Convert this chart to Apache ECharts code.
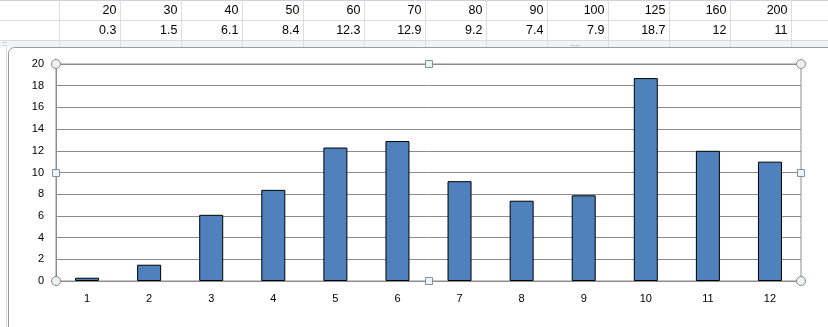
<!DOCTYPE html>
<html>
<head>
<meta charset="utf-8">
<script src="https://cdn.jsdelivr.net/npm/echarts@6/dist/echarts.min.js"></script>
<style>
html,body{margin:0;padding:0;background:#fff;}
#c{width:828px;height:327px;}
</style>
</head>
<body>
<div id="c"></div>
<script>
// Data
var categories = ['1','2','3','4','5','6','7','8','9','10','11','12'];
var headerRow = ['20','30','40','50','60','70','80','90','100','125','160','200'];
var valueRow = ['0.3','1.5','6.1','8.4','12.3','12.9','9.2','7.4','7.9','18.7','12','11'];
var values = [0.3, 1.5, 6.1, 8.4, 12.3, 12.9, 9.2, 7.4, 7.9, 18.7, 12, 11];

var chart = echarts.init(document.getElementById('c'), null, {renderer:'canvas'});

var colLeft = 58.5, colW = 61;
var g = [];
// sheet grid lines
g.push({type:'rect', shape:{x:0,y:40.5,width:828,height:7}, style:{fill:'#f1f3f6'}, silent:true, z:0});
g.push({type:'line', shape:{x1:0,y1:0.5,x2:828,y2:0.5}, style:{stroke:'#c9d3e0',lineWidth:1}, z:1});
g.push({type:'line', shape:{x1:0,y1:20.5,x2:828,y2:20.5}, style:{stroke:'#dadfe6',lineWidth:1}, z:1});
g.push({type:'line', shape:{x1:0,y1:40.5,x2:828,y2:40.5}, style:{stroke:'#d6dbe2',lineWidth:1}, z:1});
for (var k = 0; k <= 13; k++) {
  var xx = Math.round(colLeft + colW * k) + 0.5;
  g.push({type:'line', shape:{x1:xx,y1:0,x2:xx,y2:47}, style:{stroke:'#dadfe6',lineWidth:1}, z:1});
}
for (var i = 0; i < headerRow.length; i++) {
  var rx = colLeft + colW * (i + 1) - 3;
  g.push({type:'text', x:rx, y:11, style:{text:headerRow[i], fill:'#000', font:'12.5px "Liberation Sans", sans-serif', align:'right', verticalAlign:'middle'}, z:2});
  g.push({type:'text', x:rx, y:31, style:{text:valueRow[i], fill:'#000', font:'12.5px "Liberation Sans", sans-serif', align:'right', verticalAlign:'middle'}, z:2});
}
// left column strip
g.push({type:'line', shape:{x1:6.5,y1:47,x2:6.5,y2:327}, style:{stroke:'#d6dde8',lineWidth:1}, z:1});
// chart frame
g.push({type:'rect', shape:{x:8.5,y:47.5,width:840,height:320,r:6}, style:{fill:'#fff',stroke:'#9a9a9a',lineWidth:1}, z:3});
// little dots
g.push({type:'text', x:575, y:44, style:{text:'....', fill:'#7a7a7a', font:'9px sans-serif', align:'center', verticalAlign:'middle'}, z:4});
g.push({type:'text', x:5, y:44, style:{text:'::', fill:'#7a7a7a', font:'8px sans-serif', align:'center', verticalAlign:'middle'}, z:4});

// plot area selection handles
var L = 56, R = 801, T = 64, B = 281;
var circ = [[L,T],[R,T],[L,B],[R,B]];
circ.forEach(function(p){
  g.push({type:'circle', shape:{cx:p[0],cy:p[1],r:4.5}, style:{fill:'#eef1ee',stroke:'#7f8f8a',lineWidth:1}, z:100});
});
var sq = [[(L+R)/2,T],[L,(T+B)/2],[R,(T+B)/2],[(L+R)/2,B]];
sq.forEach(function(p){
  g.push({type:'rect', shape:{x:Math.round(p[0])-3.5,y:Math.round(p[1])-3.5,width:7,height:7}, style:{fill:'#eef3f8',stroke:'#7f93a8',lineWidth:1}, z:100});
});

chart.setOption({
  animation:false,
  backgroundColor:'transparent',
  grid:{left:L, right:828-R, top:T, bottom:327-B, show:true, borderColor:'#8c8c8c', borderWidth:1, backgroundColor:'transparent', z:10},
  xAxis:{
    type:'category', data:categories,
    axisLine:{show:true, lineStyle:{color:'#8c8c8c'}},
    axisTick:{show:false},
    axisLabel:{color:'#000', fontSize:11, fontFamily:'"Liberation Sans", sans-serif', margin:12},
    z:10
  },
  yAxis:{
    type:'value', min:0, max:20, interval:2,
    axisLine:{show:true, lineStyle:{color:'#8c8c8c'}},
    axisTick:{show:false},
    axisLabel:{color:'#000', fontSize:11, fontFamily:'"Liberation Sans", sans-serif', margin:12},
    splitLine:{show:true, lineStyle:{color:'#8c8c8c', width:1}},
    z:10
  },
  series:[{
    type:'bar', data:values, barWidth:24,
    itemStyle:{color:'#4f81bd', borderColor:'#000', borderWidth:1},
    z:11
  }],
  graphic:{elements:g}
});
</script>
</body>
</html>
